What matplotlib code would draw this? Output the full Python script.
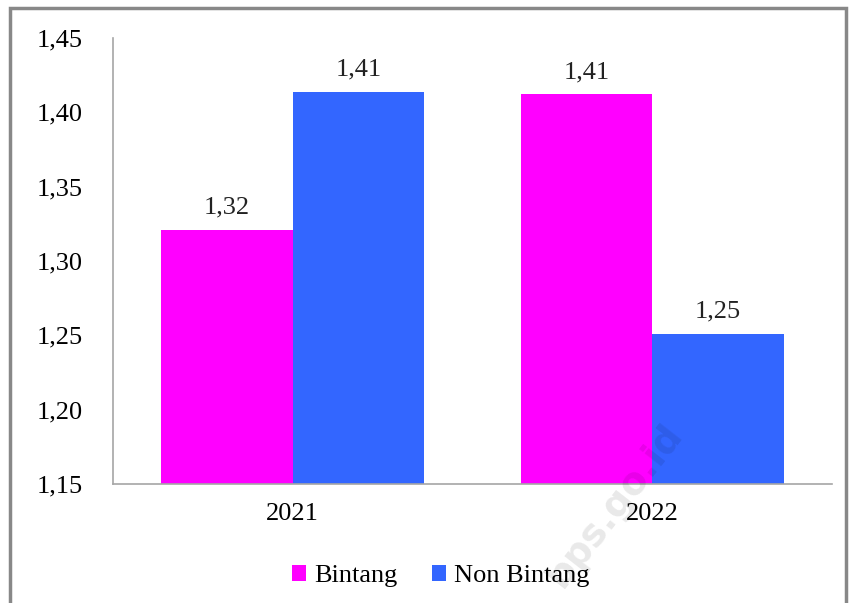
import matplotlib
matplotlib.use("Agg")
import matplotlib.pyplot as plt
import numpy as np
from matplotlib.patches import Rectangle

years = ["2021", "2022"]
series = ["Bintang", "Non Bintang"]
bintang = [1.321, 1.412]
non_bintang = [1.414, 1.251]
yticks = [1.15, 1.20, 1.25, 1.30, 1.35, 1.40, 1.45]
colors = ["#FF00FF", "#3366FF"]

plt.rcParams["font.family"] = ["Liberation Serif", "DejaVu Serif"]
FS = 19

fig = plt.figure(figsize=(8.49, 6.03), dpi=100)
ax = fig.add_axes([113 / 849, 119 / 603, 719 / 849, 446 / 603])

x = np.arange(len(years))
w = 0.366
for i, (vals, name) in enumerate(zip([bintang, non_bintang], series)):
    bars = ax.bar(x + (i - 0.5) * w, vals, width=w, color=colors[i], label=name)
    for b, v in zip(bars, vals):
        ax.annotate(f"{v:.2f}".replace(".", ","), (b.get_x() + b.get_width() / 2, v),
                    xytext=(0, 8), textcoords="offset points", ha="center", va="bottom",
                    fontsize=FS, color="#222222")

ax.set_xlim(-0.5, 1.5)
ax.set_ylim(1.15, 1.45)
ax.set_yticks(yticks, labels=[f"{t:.2f}".replace(".", ",") for t in yticks])
ax.set_xticks(x, labels=years)
ax.tick_params(axis="y", length=0, pad=22, labelsize=FS)
ax.tick_params(axis="x", length=0, pad=14, labelsize=FS)
for s in ["top", "right"]:
    ax.spines[s].set_visible(False)
for s in ["left", "bottom"]:
    ax.spines[s].set_color("#A6A6A6")
    ax.spines[s].set_linewidth(1.2)

ax.legend(loc="upper center", bbox_to_anchor=(0.456, -0.128), ncol=2, frameon=False,
          fontsize=FS, handlelength=0.55, handleheight=0.55, handletextpad=0.3,
          columnspacing=1.3)

# outer frame
fig.patches.append(Rectangle((10 / 849, -0.05), 836 / 849, 1.05 - 8 / 603,
                             transform=fig.transFigure, fill=False,
                             edgecolor="#888888", linewidth=2.5))

# watermark
fig.text(615 / 849, 1 - 505 / 603, "bps.go.id", rotation=52, ha="center", va="center",
         fontsize=27, fontweight="bold", family="DejaVu Sans", color="#000000", alpha=0.09)

fig.savefig("out.png", dpi=100)
